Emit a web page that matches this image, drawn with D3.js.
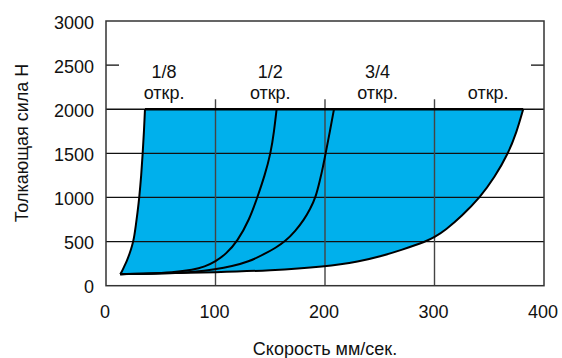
<!DOCTYPE html>
<html>
<head>
<meta charset="utf-8">
<script src="https://cdn.jsdelivr.net/npm/d3@7"></script>
<style>
  body { margin: 0; background: #fff; }
  svg text { font-family: "Liberation Sans", Arial, sans-serif; fill: #111; }
</style>
</head>
<body>
<div id="chart"></div>
<script>
// axis ticks
var xTicks = [0, 100, 200, 300, 400];
var yTicks = [0, 500, 1000, 1500, 2000, 2500, 3000];
var gridY = [500, 1000, 1500, 2000];
var gridX = [100, 200, 300];

// curves: [speed mm/s, force N]
var curve18 = [[13,130],[14.5,160],[16.5,215],[19,280],[21.5,360],[23.8,450],[25.6,540],[27.2,680],[28.8,830],[30.4,1000],[32.2,1250],[33.5,1500],[34.7,1750],[35.6,2000]];
var curve12 = [[13,130],[40,138],[60,150],[80,180],[90,215],[100,272],[110,365],[119.9,500],[131,750],[138.2,1000],[145,1250],[150.4,1500],[153.5,1750],[155.8,2000]];
var curve34 = [[13,130],[60,140],[80,155],[100,186],[115,220],[130,270],[145,360],[155,430],[163.5,500],[173,620],[181,750],[186.5,870],[191.5,1000],[195.5,1200],[198.2,1350],[200.6,1500],[204.5,1750],[208.2,2000]];
var curveFull = [[13,130],[50,140],[100,152],[150,172],[200,215],[232,275],[250,330],[270,405],[292.9,505],[300,550],[310,630],[325,790],[341.6,1000],[355,1230],[367.4,1500],[375,1740],[381,2000]];

var labelTop = ["1/8", "1/2", "3/4", ""];
var labelX = [53, 150, 248, 349];
var maxForce = 2000;

var width = 562, height = 358;

var svg = d3.select("#chart")
    .append("svg")
    .attr("width", width)
    .attr("height", height);

var x = d3.scaleLinear().domain([0, 400]).range([106, 544]);
var y = d3.scaleLinear().domain([0, 3000]).range([285.7, 21]);

var line = d3.line()
    .x(function(d){ return x(d[0]); })
    .y(function(d){ return y(d[1]); })
    .curve(d3.curveBasis);

// blue region: full curve up, across the top, down the 1/8 curve
var rev18 = curve18.slice().reverse();
var fillPath = line(curveFull) + "L" + line(rev18).slice(1) + "Z";
svg.append("path")
    .attr("d", fillPath)
    .attr("fill", "#00b0ec")
    .attr("stroke", "none");

// horizontal gridlines
svg.selectAll(".gridY")
    .data(gridY)
    .enter()
    .append("line")
    .attr("x1", x(0)).attr("x2", x(400))
    .attr("y1", function(d){ return y(d); })
    .attr("y2", function(d){ return y(d); })
    .attr("stroke", "#111")
    .attr("stroke-width", 1.3);

// vertical gridlines stop just above 2000
svg.selectAll(".gridX")
    .data(gridX)
    .enter()
    .append("line")
    .attr("x1", function(d){ return x(d); })
    .attr("x2", function(d){ return x(d); })
    .attr("y1", y(0)).attr("y2", y(2113))
    .attr("stroke", "#444")
    .attr("stroke-width", 1.4);

// short ticks at 2500
svg.append("line")
    .attr("x1", x(0)).attr("x2", x(0) + 13)
    .attr("y1", y(2500)).attr("y2", y(2500))
    .attr("stroke", "#111").attr("stroke-width", 1.3);
svg.append("line")
    .attr("x1", x(400) - 13).attr("x2", x(400))
    .attr("y1", y(2500)).attr("y2", y(2500))
    .attr("stroke", "#111").attr("stroke-width", 1.3);

// frame
svg.append("rect")
    .attr("x", x(0)).attr("y", y(3000))
    .attr("width", x(400) - x(0))
    .attr("height", y(0) - y(3000))
    .attr("fill", "none")
    .attr("stroke", "#333")
    .attr("stroke-width", 1.5);

// curves
[curveFull, curve34, curve12, curve18].forEach(function(c){
    svg.append("path")
        .attr("d", line(c))
        .attr("fill", "none")
        .attr("stroke", "#000")
        .attr("stroke-width", 2);
});

// thick top edge
svg.append("line")
    .attr("x1", x(curve18[curve18.length - 1][0]))
    .attr("x2", x(curveFull[curveFull.length - 1][0]))
    .attr("y1", y(maxForce)).attr("y2", y(maxForce))
    .attr("stroke", "#000")
    .attr("stroke-width", 2.6);

// tick labels
svg.selectAll(".ylab")
    .data(yTicks)
    .enter()
    .append("text")
    .attr("x", 94)
    .attr("y", function(d){ return y(d) + 7.5; })
    .attr("text-anchor", "end")
    .style("font-size", "18px")
    .text(function(d){ return d; });

svg.selectAll(".xlab")
    .data(xTicks)
    .enter()
    .append("text")
    .attr("x", function(d){ return x(d) - 1; })
    .attr("y", 318)
    .attr("text-anchor", "middle")
    .style("font-size", "18px")
    .text(function(d){ return d; });

// axis titles
svg.append("text")
    .attr("x", 325)
    .attr("y", 355)
    .attr("text-anchor", "middle")
    .style("font-size", "18px")
    .text("Скорость мм/сек.");

svg.append("text")
    .attr("transform", "translate(28,143) rotate(-90)")
    .attr("text-anchor", "middle")
    .style("font-size", "18px")
    .text("Толкающая сила Н");

// opening labels
labelX.forEach(function(v, i){
    svg.append("text")
        .attr("x", x(v))
        .attr("y", 78)
        .attr("text-anchor", "middle")
        .style("font-size", "18px")
        .text(labelTop[i]);
    svg.append("text")
        .attr("x", x(v))
        .attr("y", 99)
        .attr("text-anchor", "middle")
        .style("font-size", "18px")
        .text("откр.");
});
</script>
</body>
</html>
